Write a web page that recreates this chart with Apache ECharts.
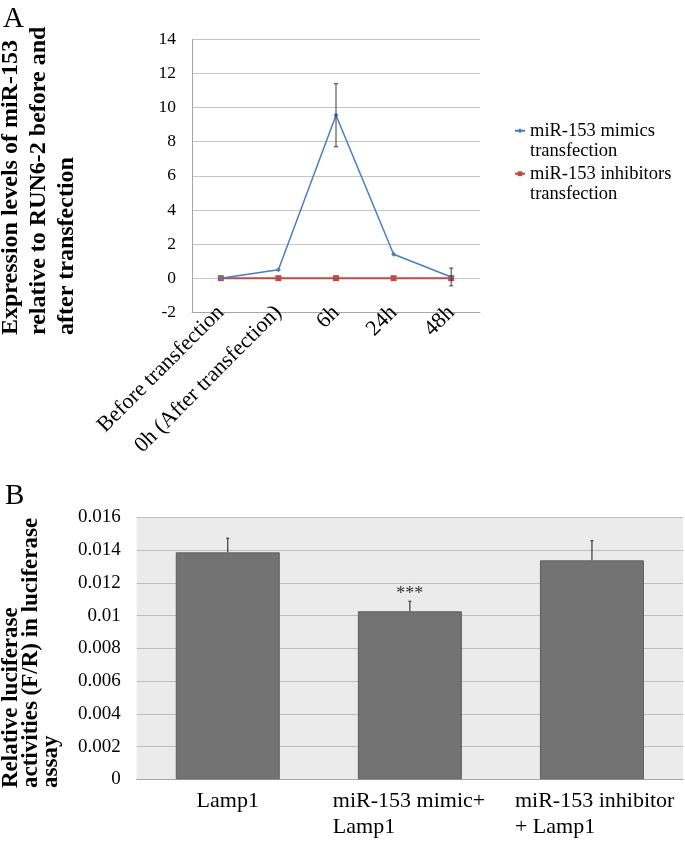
<!DOCTYPE html>
<html>
<head>
<meta charset="utf-8">
<script src="https://cdn.jsdelivr.net/npm/echarts@6/dist/echarts.min.js"></script>
<style>
html, body { margin: 0; padding: 0; background: #fff; }
#main { width: 685px; height: 844px; }
</style>
</head>
<body>
<div id="main"></div>
<script>
// panel A - miR-153 expression over time
var timePoints = ['Before transfection', '0h (After transfection)', '6h', '24h', '48h'];
var mimicsLevels = [0, 0.5, 9.55, 1.4, 0.07];
var mimicsErr = [0, 0, 1.85, 0, 0.52];
var inhibitorsLevels = [0, 0, 0, 0, 0];
var levelTicks = [-2, 0, 2, 4, 6, 8, 10, 12, 14];

// panel B - luciferase assay
var groups = ['Lamp1', 'miR-153 mimic+\nLamp1', 'miR-153 inhibitor\n+ Lamp1'];
var lucValues = [0.01386, 0.01026, 0.01337];
var lucErr = [0.00086, 0.00061, 0.0012];
var lucSig = ['', '***', ''];
var lucTicks = [0, 0.002, 0.004, 0.006, 0.008, 0.01, 0.012, 0.014, 0.016];

var serif = '"Liberation Serif", "Times New Roman", serif';

// error bars as [index, low, high]
var mimicsBars = [];
for (var i = 0; i < mimicsLevels.length; i++) {
  if (mimicsErr[i] > 0) {
    mimicsBars.push([i, mimicsLevels[i] - mimicsErr[i], mimicsLevels[i] + mimicsErr[i]]);
  }
}
var lucBars = [];
for (var j = 0; j < lucValues.length; j++) {
  lucBars.push([j, lucValues[j], lucValues[j] + lucErr[j]]);
}

function errA(params, api) {
  var x = api.value(0);
  var lo = api.coord([x, api.value(1)]);
  var hi = api.coord([x, api.value(2)]);
  var st = { stroke: '#3a3a3a', lineWidth: 1 };
  return {
    type: 'group',
    children: [
      { type: 'line', shape: { x1: lo[0], y1: lo[1], x2: hi[0], y2: hi[1] }, style: st },
      { type: 'line', shape: { x1: hi[0] - 2, y1: hi[1], x2: hi[0] + 2, y2: hi[1] }, style: st },
      { type: 'line', shape: { x1: lo[0] - 2, y1: lo[1], x2: lo[0] + 2, y2: lo[1] }, style: st }
    ]
  };
}

function errB(params, api) {
  var x = api.value(0);
  var lo = api.coord([x, api.value(1)]);
  var hi = api.coord([x, api.value(2)]);
  var st = { stroke: '#3a3a3a', lineWidth: 1.2 };
  var kids = [
    { type: 'line', shape: { x1: lo[0], y1: lo[1], x2: hi[0], y2: hi[1] }, style: st },
    { type: 'line', shape: { x1: hi[0] - 1.5, y1: hi[1], x2: hi[0] + 1.5, y2: hi[1] }, style: st }
  ];
  var sig = lucSig[params.dataIndex];
  if (sig) {
    kids.push({
      type: 'text', x: hi[0], y: hi[1] + 2,
      style: { text: sig, fill: '#333', fontSize: 18, fontFamily: serif, align: 'center', verticalAlign: 'bottom' }
    });
  }
  return { type: 'group', children: kids };
}

// legend label: a blank first line keeps the marker level with the first text line
function legendLabel(n) {
  return '\n' + n.replace(' transfection', '\ntransfection');
}

var chart = echarts.init(document.getElementById('main'));
chart.setOption({
  animation: false,
  backgroundColor: '#fff',
  title: [
    { text: 'A', left: 3, top: 5, padding: 0, textStyle: { fontFamily: serif, fontSize: 29, fontWeight: 'normal', color: '#000' } },
    { text: 'B', left: 5, top: 482, padding: 0, textStyle: { fontFamily: serif, fontSize: 29, fontWeight: 'normal', color: '#000' } }
  ],
  graphic: [
    {
      type: 'text', x: -3, y: 335, rotation: Math.PI / 2,
      style: {
        text: 'Expression levels of miR-153\nrelative to RUN6-2 before and\nafter transfection',
        fontFamily: serif, fontSize: 24, fontWeight: 'bold', lineHeight: 28,
        align: 'left', verticalAlign: 'top', fill: '#000'
      }
    },
    {
      type: 'text', x: 1, y: 788, rotation: Math.PI / 2,
      style: {
        text: 'Relative luciferase\nactivities (F/R) in luciferase\nassay',
        fontFamily: serif, fontSize: 23, fontWeight: 'bold', lineHeight: 20,
        align: 'left', verticalAlign: 'top', fill: '#000'
      }
    }
  ],
  legend: [
    {
      data: ['miR-153 mimics transfection'], left: 514, top: 100, padding: 0,
      itemWidth: 10, itemHeight: 6, formatter: legendLabel,
      textStyle: { fontFamily: serif, fontSize: 18.5, color: '#000', lineHeight: 20.5 }
    },
    {
      data: ['miR-153 inhibitors transfection'], left: 514, top: 143, padding: 0,
      itemWidth: 10, itemHeight: 6, formatter: legendLabel,
      textStyle: { fontFamily: serif, fontSize: 18.5, color: '#000', lineHeight: 20.5 }
    }
  ],
  grid: [
    { left: 192, top: 39.3, width: 288, height: 273 },
    { left: 136.7, top: 517.3, width: 546.3, height: 262, show: true, backgroundColor: '#ebebeb', borderWidth: 0 }
  ],
  xAxis: [
    {
      gridIndex: 0, type: 'category', data: timePoints,
      axisLine: { onZero: false, lineStyle: { color: '#a6a6a6', width: 1 } },
      axisTick: { show: false },
      axisLabel: { rotate: 45, margin: -3, fontFamily: serif, fontSize: 22, color: '#000', interval: 0 }
    },
    {
      gridIndex: 1, type: 'category', data: groups,
      axisLine: { lineStyle: { color: '#a6a6a6', width: 1 } },
      axisTick: { show: false },
      axisLabel: {
        margin: 9, fontFamily: serif, fontSize: 22, lineHeight: 26, color: '#000', interval: 0,
        formatter: function (v) {
          if (v.indexOf('\n') < 0) return v;
          return v.split('\n').map(function (l) { return '{w|' + l + '}'; }).join('\n');
        },
        rich: {
          w: { width: 154, align: 'left', fontFamily: serif, fontSize: 22, lineHeight: 26, color: '#000' }
        }
      }
    }
  ],
  yAxis: [
    {
      gridIndex: 0, type: 'value',
      min: levelTicks[0], max: levelTicks[levelTicks.length - 1], interval: levelTicks[1] - levelTicks[0],
      axisLine: { show: true, lineStyle: { color: '#a6a6a6', width: 1 } },
      axisTick: { show: false },
      splitLine: { lineStyle: { color: '#c4c4c4', width: 1 } },
      axisLabel: { margin: 16, fontFamily: serif, fontSize: 17.5, color: '#000' }
    },
    {
      gridIndex: 1, type: 'value',
      min: lucTicks[0], max: lucTicks[lucTicks.length - 1], interval: lucTicks[1] - lucTicks[0],
      axisLine: { show: false },
      axisTick: { show: false },
      splitLine: { lineStyle: { color: '#bdbdbd', width: 1 } },
      axisLabel: {
        margin: 16, fontFamily: serif, fontSize: 19, color: '#000',
        formatter: function (v) { return String(+v.toFixed(3)); }
      }
    }
  ],
  series: [
    {
      name: 'miR-153 mimics transfection', type: 'line', xAxisIndex: 0, yAxisIndex: 0,
      data: mimicsLevels, symbol: 'diamond', symbolSize: 5,
      lineStyle: { color: '#4a7ebb', width: 1.5 }, itemStyle: { color: '#4a7ebb' }, z: 3
    },
    {
      name: 'miR-153 inhibitors transfection', type: 'line', xAxisIndex: 0, yAxisIndex: 0,
      data: inhibitorsLevels, symbol: 'rect', symbolSize: 6,
      lineStyle: { color: '#be4b48', width: 2 }, itemStyle: { color: '#be4b48' }, z: 2
    },
    {
      type: 'custom', xAxisIndex: 0, yAxisIndex: 0, data: mimicsBars, renderItem: errA, z: 5, silent: true
    },
    {
      type: 'bar', xAxisIndex: 1, yAxisIndex: 1, data: lucValues, barWidth: 104,
      itemStyle: { color: '#737373', borderColor: '#5e5e5e', borderWidth: 1 }
    },
    {
      type: 'custom', xAxisIndex: 1, yAxisIndex: 1, data: lucBars, renderItem: errB, z: 5, silent: true
    }
  ]
});
</script>
</body>
</html>
